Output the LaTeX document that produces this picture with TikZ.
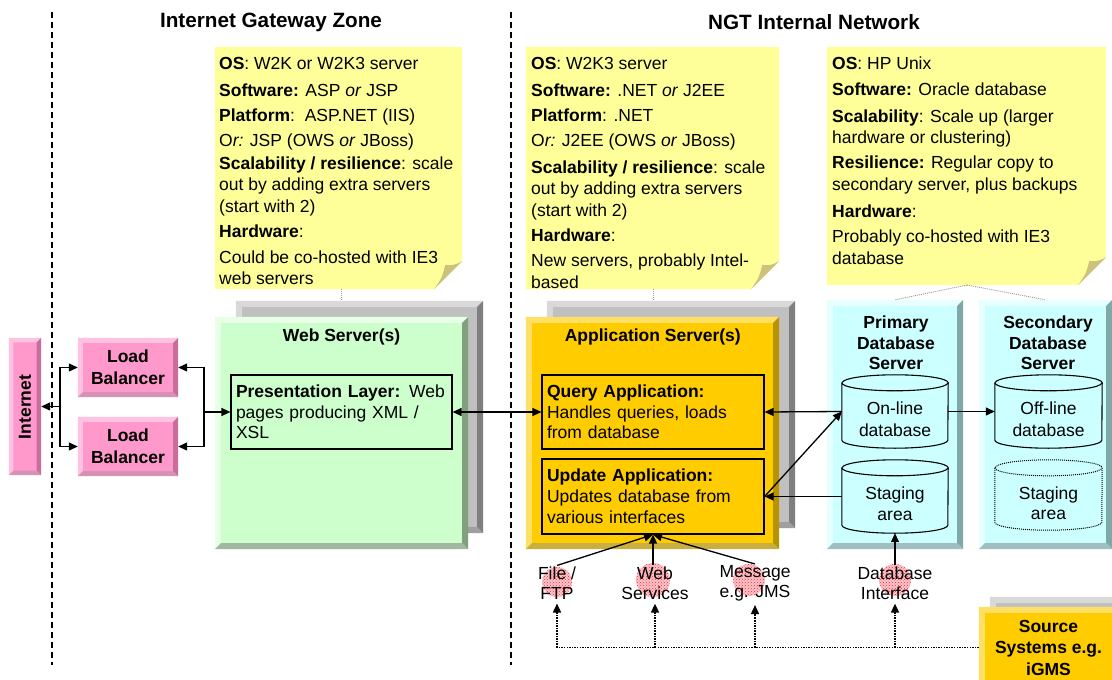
\documentclass[tikz,border=0pt]{standalone}
\usepackage{fontspec}
\setmainfont{Liberation Sans}
\usetikzlibrary{arrows.meta,calc,patterns}
\newcommand\fs{\fontsize{17.5}{21.5}\selectfont}
\newcommand\fst{\fontsize{20.7}{25}\selectfont\bfseries}
\definecolor{notey}{HTML}{FFFF99}
\definecolor{notef}{HTML}{CDC27C}
\definecolor{pinkm}{HTML}{FF99CC}
\definecolor{pinkl}{HTML}{FFC2E0}
\definecolor{pinkd}{HTML}{C76E9C}
\definecolor{greenm}{HTML}{CCFFCC}
\definecolor{greenl}{HTML}{E8FFE8}
\definecolor{greend}{HTML}{80A080}
\definecolor{orgm}{HTML}{FFCC00}
\definecolor{orgl}{HTML}{FFE066}
\definecolor{orgd}{HTML}{B89300}
\definecolor{cyanm}{HTML}{CCFFFF}
\definecolor{cyanl}{HTML}{E8FFFF}
\definecolor{cyand}{HTML}{80A8A8}
\definecolor{graym}{HTML}{C0C0C0}
\definecolor{grayl}{HTML}{D9D9D9}
\definecolor{grayd}{HTML}{7F7F7F}
\definecolor{hatchbg}{HTML}{F8C6CE}
\newcommand\bev[4]{%
 \fill[#3] (#1.north west) -- (#1.north east) -- ($(#1.north east)+(-#2,-#2)$) -- ($(#1.north west)+(#2,-#2)$) -- cycle;
 \fill[#3] (#1.north west) -- ($(#1.north west)+(#2,-#2)$) -- ($(#1.south west)+(#2,#2)$) -- (#1.south west) -- cycle;
 \fill[#4] (#1.north east) -- (#1.south east) -- ($(#1.south east)+(-#2,#2)$) -- ($(#1.north east)+(-#2,-#2)$) -- cycle;
 \fill[#4!75!white] (#1.south west) -- (#1.south east) -- ($(#1.south east)+(-#2,#2)$) -- ($(#1.south west)+(#2,#2)$) -- cycle;}
\newcommand\cyl[3]{%
 \filldraw[#3] ($(#1.north west)+(0,-8)$) -- ($(#1.south west)+(0,8)$) arc[start angle=180,end angle=360,x radius=#2pt,y radius=8pt] -- ($(#1.north east)+(0,-8)$) arc[start angle=0,end angle=180,x radius=#2pt,y radius=8pt] -- cycle;
 \draw[#3] ($(#1.north west)+(0,-8)$) arc[start angle=180,end angle=360,x radius=#2pt,y radius=8pt];}
\newcommand\notebg[1]{%
 \fill[notey] (#1.north west) -- (#1.north east) -- ($(#1.south east)+(0,28)$) -- ($(#1.south east)+(-28,0)$) -- (#1.south west) -- cycle;
 \fill[notef] ($(#1.south east)+(0,28)$) .. controls ($(#1.south east)+(-8,24)$) .. ($(#1.south east)+(-17,24)$) .. controls ($(#1.south east)+(-20,12)$) .. ($(#1.south east)+(-28,0)$) -- cycle;}
\tikzset{
 box/.style={rectangle, inner sep=0pt, draw=none},
 arr/.style={line width=1.3pt, -{Triangle[length=9pt,width=8pt]}},
 arrb/.style={line width=1.3pt, {Triangle[length=9pt,width=8pt]}-{Triangle[length=9pt,width=8pt]}},
 dotl/.style={line width=1.6pt, dash pattern=on 1.5pt off 1.1pt},
 dotarr/.style={dotl, -{Triangle[length=9pt,width=8pt]}, shorten >=3pt},
 gdot/.style={gray!80, line width=0.9pt, dash pattern=on 1pt off 1pt},
 sep/.style={line width=1.2pt, dash pattern=on 6pt off 4pt},
 notetxt/.style={anchor=north west, inner sep=0pt, align=left},
 inbox/.style={box, draw=black, line width=1.2pt, align=left, inner xsep=5pt, text width=212pt, font=\fontsize{17.5}{20.5}\selectfont},
 lbl/.style={align=center, inner sep=1pt, font=\fontsize{17.5}{20}\selectfont},
 cylst/.style={fill=cyanm, draw=black, line width=1.1pt},
 hatch/.style={pattern={crosshatch dots}, pattern color=red!85},
}
\begin{document}
\begin{tikzpicture}[x=1pt,y=1pt,font=\fs]
\useasboundingbox (0,0) rectangle (1112,-680);
\clip (0,0) rectangle (1112,-680);
\fill[white] (0,0) rectangle (1112,-680);

% separators and zone titles
\coordinate (s1t) at (52,-12); \coordinate (s1b) at (52,-665);
\coordinate (s2t) at (511,-12); \coordinate (s2b) at (511,-665);
\draw[sep] (s1t) -- (s1b);
\draw[sep] (s2t) -- (s2b);
\node[font=\fst] (zone1) at (271,-22) {Internet Gateway Zone};
\node[font=\fst] (zone2) at (814,-22) {NGT Internal Network};

% notes
\node[box, minimum width=247pt, minimum height=242pt] (note1) at (338.5,-168) {};
\node[box, minimum width=253pt, minimum height=242pt] (note2) at (652.5,-168) {};
\node[box, minimum width=279pt, minimum height=238pt] (note3) at (966.5,-166) {};
\notebg{note1}\notebg{note2}\notebg{note3}
\node[notetxt] (note1t) at (219,-54) {\strut\textbf{OS}: W2K or W2K3 server\\[5.5pt]
\textbf{Software:} ASP \textit{or} JSP\\[3.5pt]
\textbf{Platform}:\ \ ASP.NET (IIS)\\[3.5pt]
O\textit{r:} JSP (OWS \textit{or} JBoss)\\[1.5pt]
\textbf{Scalability / resilience}: scale\\
out by adding extra servers\\
(start with 2)\\[3.5pt]
\textbf{Hardware}:\\[4.5pt]
Could be co-hosted with IE3\\
web servers};
\node[notetxt] (note2t) at (531,-54) {\strut\textbf{OS}: W2K3 server\\[5.5pt]
\textbf{Software:} .NET \textit{or} J2EE\\[3.5pt]
\textbf{Platform}: .NET\\[3.5pt]
O\textit{r:} J2EE (OWS \textit{or} JBoss)\\[5.5pt]
\textbf{Scalability / resilience}: scale\\
out by adding extra servers\\[0.5pt]
(start with 2)\\[3.5pt]
\textbf{Hardware}:\\[3.5pt]
New servers, probably Intel-\\[0.5pt]
based};
\node[notetxt] (note3t) at (832,-54) {\strut\textbf{OS}: HP Unix\\[4.5pt]
\textbf{Software:} Oracle database\\[5.5pt]
\textbf{Scalability}: Scale up (larger\\
hardware or clustering)\\[3.5pt]
\textbf{Resilience:} Regular copy to\\
secondary server, plus backups\\[5.5pt]
\textbf{Hardware}:\\[3.5pt]
Probably co-hosted with IE3\\[0.5pt]
database};

% server boxes
\node[box, fill=graym, minimum width=247pt, minimum height=232pt] (webback) at (359.5,-417) {};
\node[box, fill=graym, minimum width=248pt, minimum height=227pt] (appback) at (671,-414.5) {};
\coordinate (n1b) at (341.5,-289);
\coordinate (n2b) at (653,-289);
\coordinate (n3b) at (967,-285);
\draw[gdot] (n1b) -- (n1b |- webback.north);
\draw[gdot] (n2b) -- (n2b |- appback.north);
\bev{webback}{6}{grayl}{grayd}
\bev{appback}{6}{grayl}{grayd}

\node[box, fill=greenm, minimum width=253pt, minimum height=232pt] (web) at (341.5,-433) {};
\bev{web}{6}{greenl}{greend}
\node[font=\fs\bfseries] (webt) at (341.5,-337) {Web Server(s)};
\node[inbox, fill=greenm, minimum width=221pt, minimum height=74pt, text width=211pt] (pres) at (341.5,-412) {\textbf{Presentation Layer:} Web\\pages producing XML /\\XSL};

\node[box, fill=orgm, minimum width=253pt, minimum height=232pt] (app) at (652.5,-433) {};
\bev{app}{6}{orgl}{orgd}
\node[font=\fs\bfseries] (appt) at (652.8,-337) {Application Server(s)};
\node[inbox, fill=orgm, minimum width=222pt, minimum height=74pt] (query) at (653,-412) {\textbf{Query Application:}\\Handles queries, loads\\from database};
\node[inbox, fill=orgm, minimum width=222pt, minimum height=75pt, font=\fontsize{17.5}{21}\selectfont] (update) at (653,-496.5) {\textbf{Update Application:}\\Updates database from\\various interfaces};

% database servers
\node[box, fill=cyanm, minimum width=136pt, minimum height=249pt] (prim) at (895,-424.5) {};
\bev{prim}{6}{cyanl}{cyand}
\node[box, fill=cyanm, minimum width=133pt, minimum height=249pt] (sec) at (1045.5,-424.5) {};
\bev{sec}{6}{cyanl}{cyand}
\draw[gdot] (n3b) -- (prim.north);
\draw[gdot] (n3b) -- (sec.north);
\node[align=center, font=\fontsize{17.5}{20.5}\selectfont\bfseries] (primt) at (896,-343) {Primary\\Database\\Server};
\node[align=center, font=\fontsize{17.5}{20.5}\selectfont\bfseries] (sect) at (1048,-343) {Secondary\\Database\\Server};

\node[box, minimum width=106pt, minimum height=73pt] (online) at (895,-411.5) {};
\cyl{online}{53}{cylst}
\node[align=center, font=\fontsize{17.5}{22}\selectfont] (onlinet) at (895,-419) {On-line\\database};
\node[box, minimum width=106pt, minimum height=73pt] (staging) at (895,-496.5) {};
\cyl{staging}{53}{cylst}
\node[align=center, font=\fontsize{17.5}{20.5}\selectfont] (stagingt) at (895,-503.5) {Staging\\area};
\node[box, minimum width=107pt, minimum height=73pt] (offline) at (1048.5,-411.5) {};
\cyl{offline}{53.5}{cylst}
\node[align=center, font=\fontsize{17.5}{22}\selectfont] (offlinet) at (1048.5,-419) {Off-line\\database};
\node[box, minimum width=107pt, minimum height=70pt] (staging2) at (1048.5,-495) {};
\cyl{staging2}{53.5}{fill=cyanm, draw=black, line width=1pt, dash pattern=on 1pt off 1pt}
\node[align=center, font=\fontsize{17.5}{20.5}\selectfont] (staging2t) at (1048.5,-503) {Staging\\area};

% internet and load balancers
\node[box, fill=pinkm, minimum width=32pt, minimum height=137pt] (internet) at (25,-406.5) {};
\bev{internet}{4.5}{pinkl}{pinkd}
\node[rotate=90, font=\fs\bfseries] (internett) at (25,-407) {Internet};
\node[box, fill=pinkm, minimum width=100pt, minimum height=59pt, align=center, font=\fontsize{17.5}{22}\selectfont\bfseries] (lb1) at (128,-367.5) {Load\\Balancer};
\bev{lb1}{5}{pinkl}{pinkd}
\node[box, fill=pinkm, minimum width=100pt, minimum height=59pt, align=center, font=\fontsize{17.5}{22}\selectfont\bfseries] (lb2) at (128,-446.5) {Load\\Balancer};
\bev{lb2}{5}{pinkl}{pinkd}

% source systems
\node[box, fill=graym, minimum width=135pt, minimum height=83pt] (srcback) at (1057.5,-638.5) {};
\bev{srcback}{6}{grayl}{grayd}
\node[box, fill=orgm, minimum width=139pt, minimum height=81pt, align=center, font=\fontsize{17.5}{21.5}\selectfont\bfseries] (src) at (1048.5,-647.5) {Source\\Systems e.g.\\iGMS};
\bev{src}{6}{orgl}{orgd}

% interface labels
\fill[hatchbg] (557,-582) circle[radius=15pt];
\fill[hatchbg] (653,-580) circle[radius=17pt];
\fill[hatchbg] (749,-580) circle[radius=16pt];
\fill[hatchbg] (895,-580) circle[radius=16pt];
\fill[hatch] (557,-582) circle[radius=15pt];
\fill[hatch] (653,-580) circle[radius=17pt];
\fill[hatch] (749,-580) circle[radius=16pt];
\fill[hatch] (895,-580) circle[radius=16pt];
\node[lbl] (file) at (557,-583) {File /\\FTP};
\node[lbl] (websvc) at (655,-583) {Web\\Services};
\node[lbl] (msg) at (755,-583) {Message\\e.g. JMS};
\node[lbl] (dbi) at (895,-583) {Database\\Interface};

% connectors
\coordinate (jl) at (60,-406.5);
\coordinate (jr) at (204,-412);
\draw[arr] (jl) -- (internet.east);
\draw[arr] (jl) |- (lb1.west);
\draw[arr] (jl) |- (lb2.west);
\draw[arr] (jr) -- (pres.west);
\draw[arr] (jr) |- (lb1.east);
\draw[arr] (jr) |- (lb2.east);
\draw[arrb] (pres.east) -- (query.west);
\draw[arr] (online.west) -- (query.east);
\draw[arr] (staging.west) -- (update.east);
\draw[arr] (update.east) -- (online.west);
\draw[arr] (online.east) -- (offline.west);
\draw[arr] (file.north) -- (update.south);
\draw[arr] (websvc.north -| update.south) -- (update.south);
\draw[arr] (msg.north) -- (update.south);
\draw[arr] (dbi.north) -- (staging.south);

\coordinate (c1) at (557,-647.5);
\coordinate (c2) at (655,-647.5);
\coordinate (c3) at (755,-647.5);
\coordinate (c4) at (895,-647.5);
\draw[dotl] (src.west) -- (c1);
\draw[dotarr] (c1) -- (file.south);
\draw[dotarr] (c2) -- (websvc.south);
\draw[dotarr] (c3) -- (msg.south);
\draw[dotarr] (c4) -- (dbi.south);
\end{tikzpicture}
\end{document}
